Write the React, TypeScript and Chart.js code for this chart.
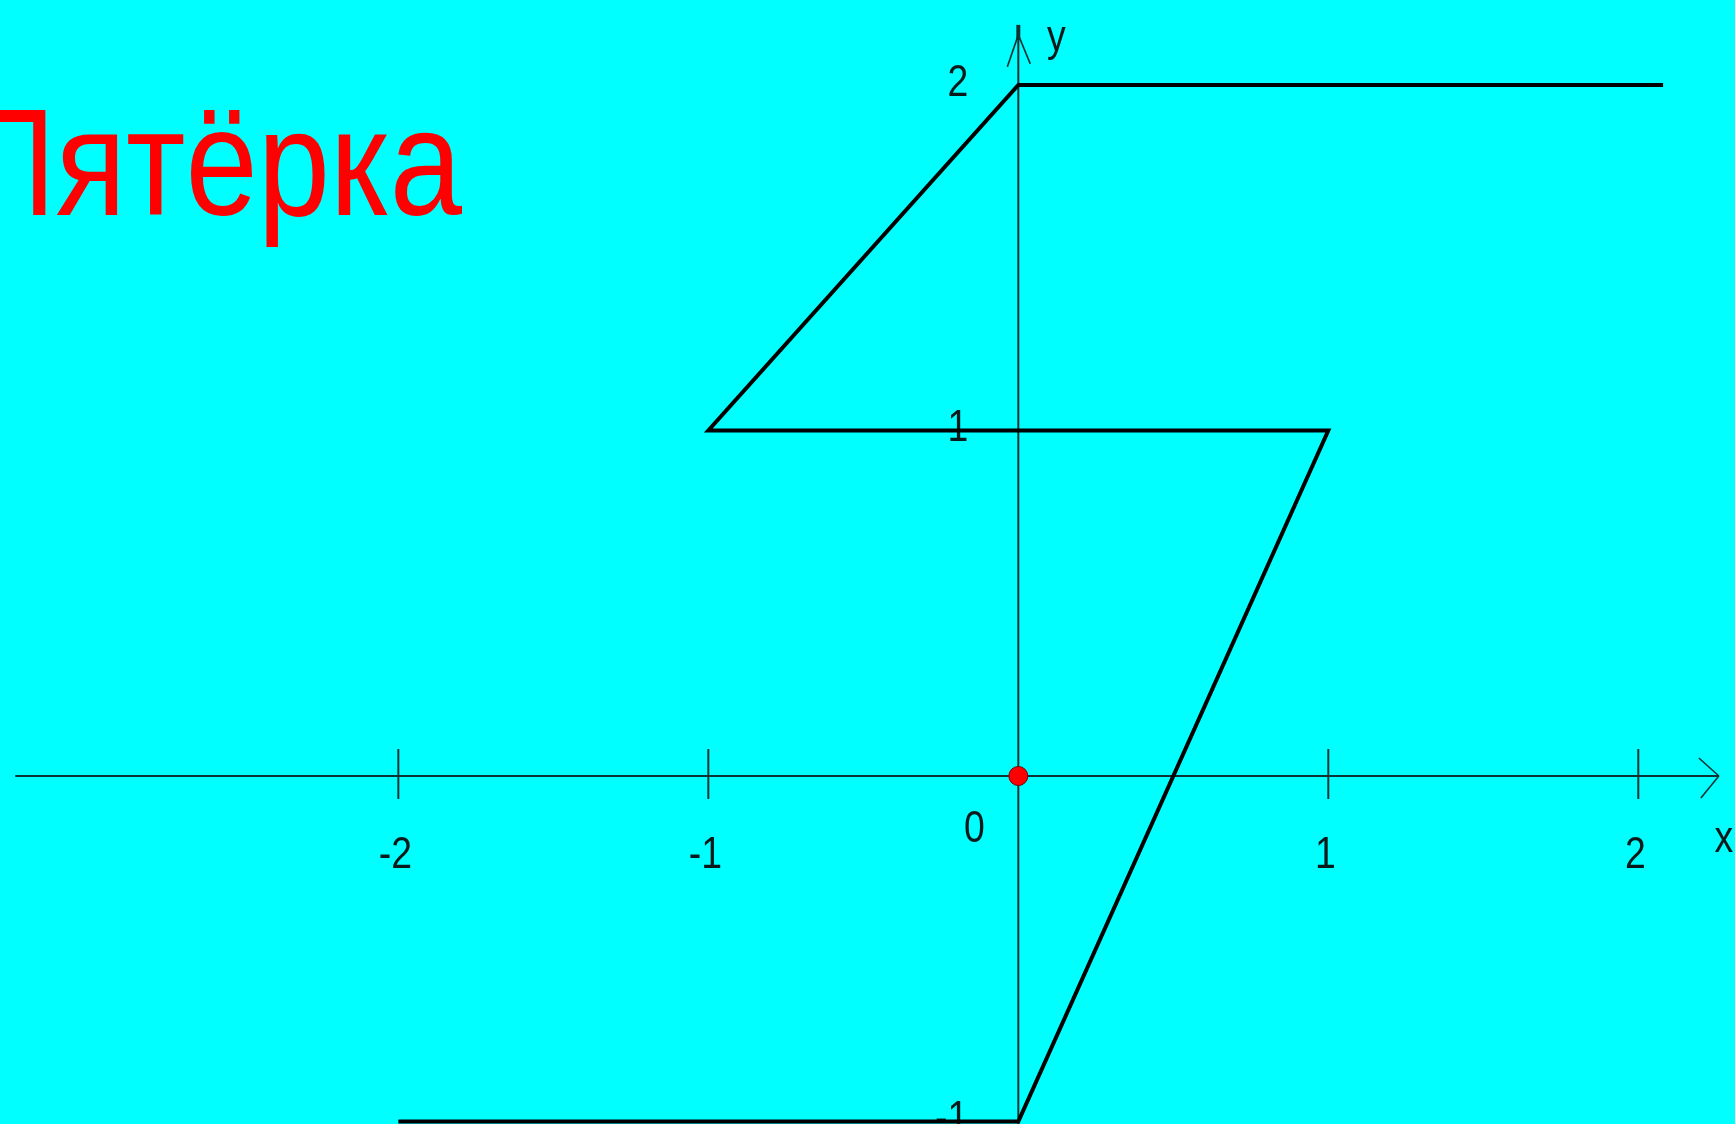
import React, { useEffect, useRef } from "react";
import { Chart, registerables } from "chart.js";

Chart.register(...registerables);

// ---- data ----
const titleText = "Пятёрка";
const graphX = [2.08, 0, -1, 1, 0, -2];
const graphY = [2, 2, 1, 1, -1, -1];
const originX = [0];
const originY = [0];
const xTickValues = [-2, -1, 1, 2];
const xTickLabels = ["-2", "-1", "1", "2"];
const yTickValues = [-1, 1, 2];
const yTickLabels = ["-1", "1", "2"];
const originLabel = "0";
const xAxisName = "x";
const yAxisName = "y";

// ---- view ----
const X_MIN = -3.285;
const X_MAX = 2.312;
const Y_MIN = -1.0072;
const Y_MAX = 2.246;
const X_AXIS_FROM = -3.236;
const X_AXIS_TO = 2.26;
const Y_AXIS_TO = 2.174;

const FONT = "'Liberation Sans', Arial, Helvetica, sans-serif";
const AXIS_COLOR = "#0f3333";
const TEXT_COLOR = "#0a1a1a";

function drawText(
  ctx: CanvasRenderingContext2D,
  text: string,
  x: number,
  yCenter: number,
  size: number,
  sx: number,
  align: "left" | "right" | "center",
  color: string
) {
  ctx.save();
  ctx.font = `${size}px ${FONT}`;
  ctx.fillStyle = color;
  ctx.textAlign = align;
  ctx.textBaseline = "alphabetic";
  ctx.translate(x, yCenter + size * 0.358);
  ctx.scale(sx, 1);
  ctx.fillText(text, 0, 0);
  ctx.restore();
}

function seg(ctx: CanvasRenderingContext2D, x1: number, y1: number, x2: number, y2: number) {
  ctx.beginPath();
  ctx.moveTo(x1, y1);
  ctx.lineTo(x2, y2);
  ctx.stroke();
}

const axesPlugin = {
  id: "handAxes",
  beforeDatasetsDraw(chart: any) {
    const ctx: CanvasRenderingContext2D = chart.ctx;
    const xs = chart.scales.x;
    const ys = chart.scales.y;
    const x0 = xs.getPixelForValue(0);
    const y0 = ys.getPixelForValue(0);
    ctx.save();
    ctx.strokeStyle = AXIS_COLOR;
    ctx.lineCap = "butt";
    ctx.lineWidth = 2;
    // x axis
    const xl = xs.getPixelForValue(X_AXIS_FROM);
    const xr = xs.getPixelForValue(X_AXIS_TO);
    seg(ctx, xl, y0, xr, y0);
    ctx.lineWidth = 1.6;
    seg(ctx, xr, y0, xr - 20, y0 - 18);
    seg(ctx, xr, y0, xr - 18, y0 + 22);
    // y axis
    const yt = ys.getPixelForValue(Y_AXIS_TO);
    ctx.lineWidth = 2;
    seg(ctx, x0, yt, x0, chart.height + 10);
    ctx.lineWidth = 4;
    seg(ctx, x0, yt, x0, yt + 15);
    ctx.lineWidth = 1.6;
    seg(ctx, x0, yt + 10, x0 - 11, yt + 42);
    seg(ctx, x0, yt + 10, x0 + 12, yt + 39);
    // x ticks
    ctx.lineWidth = 2;
    xTickValues.forEach((v) => {
      const px = xs.getPixelForValue(v);
      seg(ctx, px, y0 - 27, px, y0 + 23);
    });
    ctx.restore();

    // tick labels
    xTickValues.forEach((v, i) => {
      const px = xs.getPixelForValue(v);
      drawText(ctx, xTickLabels[i], px - 3, y0 + 76, 44, 0.85, "center", TEXT_COLOR);
    });
    yTickValues.forEach((v, i) => {
      const py = ys.getPixelForValue(v);
      drawText(ctx, yTickLabels[i], x0 - 50, py - 5, 44, 0.85, "right", TEXT_COLOR);
    });
    drawText(ctx, originLabel, x0 - 44, y0 + 50, 44, 0.85, "center", TEXT_COLOR);
    drawText(ctx, yAxisName, x0 + 38, yt + 10, 44, 0.85, "center", TEXT_COLOR);
    drawText(ctx, xAxisName, xr + 5, y0 + 60, 44, 0.85, "center", TEXT_COLOR);
  },
  afterDraw(chart: any) {
    const ctx: CanvasRenderingContext2D = chart.ctx;
    const size = 152;
    ctx.save();
    ctx.font = `${size}px ${FONT}`;
    const w = ctx.measureText(titleText).width;
    ctx.restore();
    const sx = 416 / (w - 0.644 * size);
    const x0 = 46 - 0.644 * size * sx;
    ctx.save();
    ctx.font = `${size}px ${FONT}`;
    ctx.fillStyle = "#ff0000";
    ctx.textAlign = "left";
    ctx.textBaseline = "alphabetic";
    ctx.translate(x0, 215);
    ctx.scale(sx, 1);
    ctx.fillText(titleText, 0, 0);
    ctx.restore();
  },
};

export default function App() {
  const canvasRef = useRef<HTMLCanvasElement | null>(null);

  useEffect(() => {
    if (!canvasRef.current) return;
    const chart = new Chart(canvasRef.current, {
      type: "scatter",
      data: {
        datasets: [
          {
            data: graphX.map((x, i) => ({ x, y: graphY[i] })),
            showLine: true,
            borderColor: "#000000",
            borderWidth: 4,
            pointRadius: 0,
            tension: 0,
            fill: false,
            clip: false as any,
          },
          {
            data: originX.map((x, i) => ({ x, y: originY[i] })),
            pointRadius: 9.5,
            pointBackgroundColor: "#ff0000",
            pointBorderColor: "#7a0000",
            pointBorderWidth: 1,
            showLine: false,
            clip: false as any,
          },
        ],
      },
      options: {
        animation: false,
        responsive: true,
        maintainAspectRatio: false,
        devicePixelRatio: 1,
        layout: { padding: 0, autoPadding: false } as any,
        plugins: {
          legend: { display: false },
          tooltip: { enabled: false },
          title: { display: false },
        },
        scales: {
          x: { type: "linear", min: X_MIN, max: X_MAX, display: false },
          y: { type: "linear", min: Y_MIN, max: Y_MAX, display: false },
        },
      },
      plugins: [axesPlugin],
    });
    return () => chart.destroy();
  }, []);

  return (
    <div
      style={{
        position: "absolute",
        left: 0,
        top: 0,
        width: 1735,
        height: 1124,
        background: "#00ffff",
        overflow: "hidden",
      }}
    >
      <canvas ref={canvasRef} />
    </div>
  );
}
